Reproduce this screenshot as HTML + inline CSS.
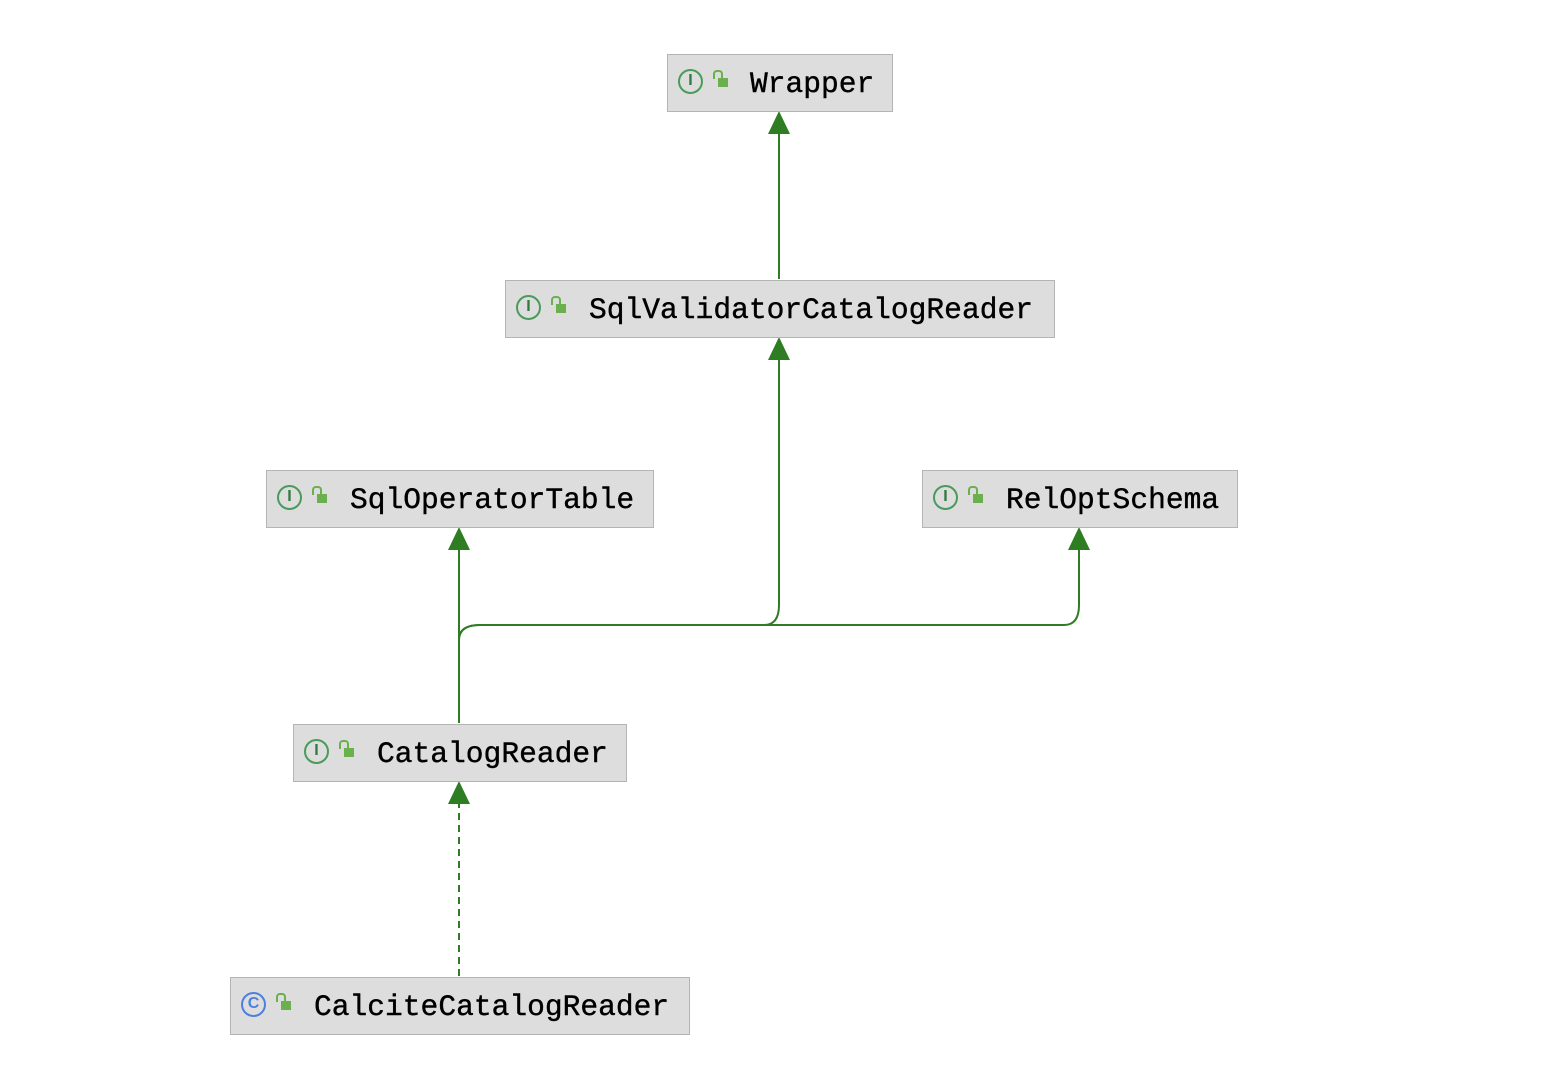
<!DOCTYPE html>
<html><head><style>
body{margin:0;background:#fff;width:1556px;height:1084px;position:relative;overflow:hidden}
.b{position:absolute;background:#dddddd;border:1.5px solid #b4b4b4;box-sizing:border-box;height:58px}
.t{position:absolute;top:13px;font-family:"Liberation Mono",monospace;font-size:29.6px;color:#000;line-height:32px;-webkit-text-stroke:0.4px #000}
.ic{position:absolute;top:14px;width:25px;height:25px;border:2.5px solid #4a9a5a;border-radius:50%;box-sizing:border-box;font:bold 16px "Liberation Sans",sans-serif;color:#2f7a3f;text-align:center;line-height:20px}
.ic.c{border-color:#4d7fe0;color:#4d7fe0}
.lk{position:absolute;top:23px;width:10px;height:9px;background:#6ab04c}
.lk:before{content:"";position:absolute;left:-5px;top:-8px;width:6px;height:7px;border:2px solid #6ab04c;border-bottom:none;border-radius:4px 4px 0 0}
</style></head><body>
<svg width="1556" height="1084" style="position:absolute;left:0;top:0">
<g stroke="#2e7d23" stroke-width="2" fill="none">
<line x1="779" y1="279" x2="779" y2="130"/>
<line x1="779" y1="605" x2="779" y2="356"/>
<path d="M459 723 V640 Q459 625 480 625 H764 Q779 625 779 605"/>
<path d="M459 640 Q459 625 480 625 H1064 Q1079 625 1079 605 V546"/>
<line x1="459" y1="723" x2="459" y2="546"/>
<line x1="459" y1="976" x2="459" y2="800" stroke-dasharray="7,5"/>
</g>
<g fill="#2e7d23">
<polygon points="779,111 768,134 790,134"/>
<polygon points="779,337 768,360 790,360"/>
<polygon points="459,527 448,550 470,550"/>
<polygon points="1079,527 1068,550 1090,550"/>
<polygon points="459,781 448,804 470,804"/>
</g>
</svg>
<div class="b" style="left:667px;top:54px;width:226px"><div class="ic" style="left:10px">I</div><div class="lk" style="left:50px"></div><div class="t" style="left:82px">Wrapper</div></div>
<div class="b" style="left:505px;top:280px;width:550px"><div class="ic" style="left:10px">I</div><div class="lk" style="left:50px"></div><div class="t" style="left:83px">SqlValidatorCatalogReader</div></div>
<div class="b" style="left:266px;top:470px;width:388px"><div class="ic" style="left:10px">I</div><div class="lk" style="left:50px"></div><div class="t" style="left:83px">SqlOperatorTable</div></div>
<div class="b" style="left:922px;top:470px;width:316px"><div class="ic" style="left:10px">I</div><div class="lk" style="left:50px"></div><div class="t" style="left:83px">RelOptSchema</div></div>
<div class="b" style="left:293px;top:724px;width:334px"><div class="ic" style="left:10px">I</div><div class="lk" style="left:50px"></div><div class="t" style="left:83px">CatalogReader</div></div>
<div class="b" style="left:230px;top:977px;width:460px"><div class="ic c" style="left:10px">C</div><div class="lk" style="left:50px"></div><div class="t" style="left:83px">CalciteCatalogReader</div></div>
</body></html>
